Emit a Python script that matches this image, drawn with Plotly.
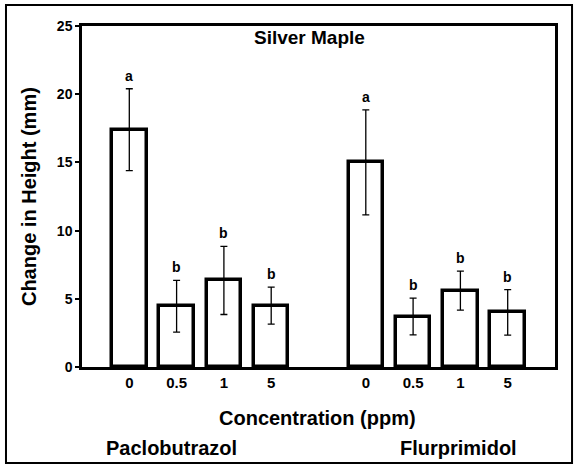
import plotly.graph_objects as go

# Data
groups = ["Paclobutrazol", "Flurprimidol"]
conc_labels = ["0", "0.5", "1", "5"]
pac_means = [17.4, 4.45, 6.35, 4.5]
pac_err = [3.0, 1.9, 2.5, 1.35]
flu_means = [15.0, 3.7, 5.6, 4.0]
flu_err = [3.85, 1.35, 1.43, 1.67]
pac_letters = ["a", "b", "b", "b"]
flu_letters = ["a", "b", "b", "b"]

pac_x = [0, 1, 2, 3]
flu_x = [5, 6, 7, 8]

FONT = "Liberation Sans, Arial, sans-serif"

fig = go.Figure()
for xs, ms, es in [(pac_x, pac_means, pac_err), (flu_x, flu_means, flu_err)]:
    fig.add_trace(go.Bar(
        x=xs, y=ms, width=0.73,
        marker=dict(color="white", line=dict(color="black", width=3.5)),
        error_y=dict(type="data", array=es, visible=True, color="black",
                     thickness=1.3, width=3.5),
        showlegend=False, hoverinfo="skip",
    ))

for xs, ms, es, ls in [(pac_x, pac_means, pac_err, pac_letters),
                       (flu_x, flu_means, flu_err, flu_letters)]:
    for x, m, e, l in zip(xs, ms, es, ls):
        fig.add_annotation(x=x, y=m + e, text=l, showarrow=False, xanchor="center",
                           yshift=13, font=dict(size=14, family=FONT, weight="bold", color="black"))

def label(x, y, text, size, angle=0):
    fig.add_annotation(xref="paper", yref="paper", x=x, y=y, text=text, textangle=angle,
                       showarrow=False, xanchor="center", yanchor="middle",
                       font=dict(size=size, family=FONT, weight="bold", color="black"))

# Titles / labels
label(0.482, 0.965, "Silver Maple", 19)
label(0.497, -0.1496, "Concentration (ppm)", 20)
label(0.19, -0.2375, groups[0], 20)
label(0.797, -0.2375, groups[1], 20)
label(-0.112, 0.4985, "Change in Height (mm)", 20, angle=-90)

# Outer border
fig.add_shape(type="rect", xref="paper", yref="paper", x0=-0.1607, x1=1.036, y0=-0.2815, y1=1.0616,
              line=dict(color="black", width=2))

fig.update_layout(
    width=579, height=468,
    margin=dict(l=82, r=24, t=26, b=101),
    paper_bgcolor="white", plot_bgcolor="white",
    font=dict(family=FONT, color="black"),
    xaxis=dict(range=[-1, 9], tickvals=pac_x + flu_x, ticktext=conc_labels + conc_labels,
               ticks="", showline=True, linecolor="black", linewidth=2.5, mirror=True,
               showgrid=False, zeroline=False,
               tickfont=dict(size=15, family=FONT, weight="bold")),
    yaxis=dict(range=[0, 25], tickvals=[0, 5, 10, 15, 20, 25], ticks="outside", ticklen=4,
               tickwidth=1.5, tickcolor="black", showline=True, linecolor="black", linewidth=2.5,
               mirror=True, showgrid=False, zeroline=False,
               tickfont=dict(size=14, family=FONT, weight="bold")),
    bargap=0,
)

fig.write_html("out.html", config={"displayModeBar": False},
               post_script="document.body.style.margin='0';document.body.style.overflow='hidden';")
